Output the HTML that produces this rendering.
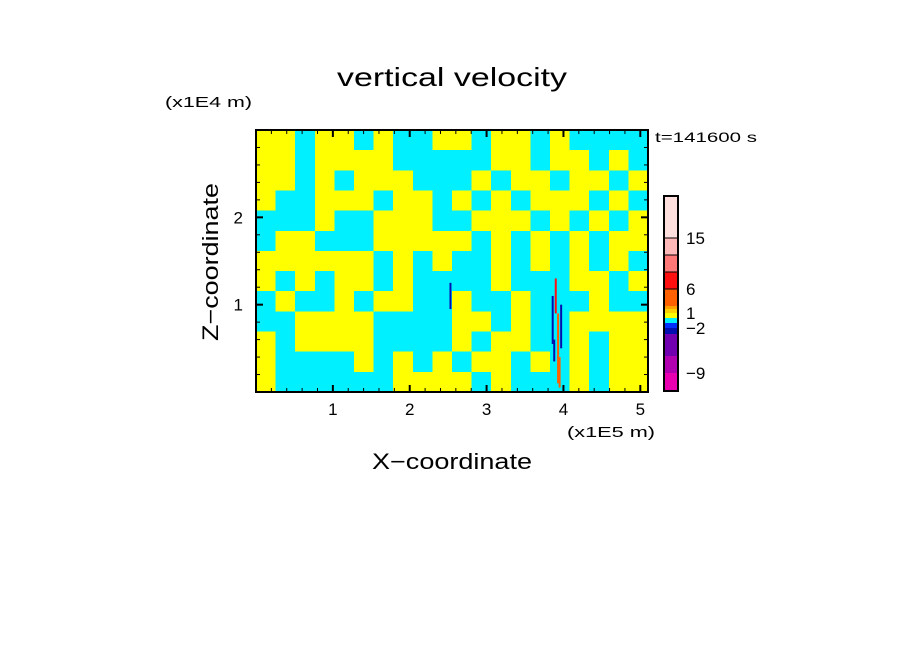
<!DOCTYPE html>
<html><head><meta charset="utf-8"><style>
html,body{margin:0;padding:0;background:#fff}
svg text{font-family:"Liberation Sans",sans-serif;fill:#000}
</style></head><body>
<svg id="chart" width="904" height="654" xmlns="http://www.w3.org/2000/svg">
<rect width="904" height="654" fill="#fff"/>
<text x="337" y="86" font-size="26" textLength="230" lengthAdjust="spacingAndGlyphs">vertical velocity</text>
<text x="165" y="107" font-size="15" textLength="87" lengthAdjust="spacingAndGlyphs">(x1E4 m)</text>
<text x="567" y="437" font-size="15" textLength="88" lengthAdjust="spacingAndGlyphs">(x1E5 m)</text>
<text x="372" y="469" font-size="22" textLength="160" lengthAdjust="spacingAndGlyphs">X−coordinate</text>
<text transform="translate(218,341) rotate(-90)" font-size="22" textLength="158" lengthAdjust="spacingAndGlyphs">Z−coordinate</text>
<text x="655" y="142" font-size="14" textLength="102" lengthAdjust="spacingAndGlyphs">t=141600 s</text>
<g id="field"></g>
<g id="axes"></g>
<g id="cbar"></g>
</svg>
<script>
// grid of sign categories (1 = yellow 0..1, 0 = cyan -1..0), rows top→bottom
const fieldRows = [
"11011010011011010000",
"11011110000011011010",
"11010111000101101101",
"10011101101010111010",
"00010011100111010101",
"01100011111010101011",
"11111101010010101010",
"10101101000010001101",
"01001011001001000100",
"00111100001101001111",
"10111100001011001011",
"10000101010110101011",
"10000001111010001011"
];
// strong streaks
const streakX = [2.53, 3.86, 3.90, 3.93, 3.97, 3.88, 3.95];
const streakZ0 = [0.95, 0.55, 0.9, 0.1, 0.5, 0.35, 0.05];
const streakZ1 = [1.25, 1.1, 1.3, 0.9, 1.0, 0.6, 0.4];
const streakLevel = [-3, -3, 8, 3, -3, -3, 3];
// colorbar levels
const cbarBounds = [-12,-9,-6,-3,-2,-1,0,1,2,3,6,9,12,15,20];
const cbarColors = ["#e800b0","#b000b0","#7000b0","#0010b0","#0030ff","#00f0ff","#ffff00","#ffd000","#ffa000","#ff6000","#ff1010","#ff7878","#ffb8b8","#ffdede"];
const cbarLabels = [-9,-2,1,6,15];
const xTicks = [1,2,3,4,5];
const yTicks = [1,2];

const NS="http://www.w3.org/2000/svg";
const X0=256,X1=648,Y0=392,Y1=130,XMAX=5.1,ZMAX=3.0;
const sx=v=>X0+v*(X1-X0)/XMAX, sy=v=>Y0-v*(Y0-Y1)/ZMAX;
function mk(tag,attrs,parent){const e=document.createElementNS(NS,tag);for(const k in attrs)e.setAttribute(k,attrs[k]);parent.appendChild(e);return e;}
function colorFor(v){for(let i=0;i<cbarColors.length;i++){if(v<cbarBounds[i+1])return cbarColors[i];}return cbarColors[cbarColors.length-1];}
const field=document.getElementById('field');
const nr=fieldRows.length,nc=fieldRows[0].length;
const cw=(X1-X0)/nc,ch=(Y0-Y1)/nr;
for(let r=0;r<nr;r++)for(let c=0;c<nc;c++){
  const e=mk('rect',{x:X0+c*cw,y:Y1+r*ch,width:cw+0.5,height:ch+0.5,fill:fieldRows[r][c]==='1'?'#ffff00':'#00f0ff','shape-rendering':'crispEdges'},field);
  
  
}
for(let i=0;i<streakX.length;i++){
  const e=mk('rect',{x:sx(streakX[i])-1,y:sy(streakZ1[i]),width:2,height:sy(streakZ0[i])-sy(streakZ1[i]),fill:colorFor(streakLevel[i])},field);
  
  
}
const axes=document.getElementById('axes');
const fr=mk('rect',{x:X0,y:Y1,width:X1-X0,height:Y0-Y1,fill:'none',stroke:'#000','stroke-width':2},axes);


for(let v=0.2;v<XMAX;v+=0.2){const x=sx(v);const major=Math.abs(v-Math.round(v))<0.01;const L=major?7:4;
  mk('line',{x1:x,x2:x,y1:Y0,y2:Y0-L,stroke:'#000','stroke-width':major?2:1},axes);
  mk('line',{x1:x,x2:x,y1:Y1,y2:Y1+L,stroke:'#000','stroke-width':major?2:1},axes);}
for(let v=0.2;v<ZMAX;v+=0.2){const y=sy(v);const major=Math.abs(v-Math.round(v))<0.01;const L=major?7:4;
  mk('line',{x1:X0,x2:X0+L,y1:y,y2:y,stroke:'#000','stroke-width':major?2:1},axes);
  mk('line',{x1:X1,x2:X1-L,y1:y,y2:y,stroke:'#000','stroke-width':major?2:1},axes);}
xTicks.forEach(t=>{const e=mk('text',{x:sx(t),y:415,'font-size':17,'text-anchor':'middle'},axes);e.textContent=t;
  
  });
yTicks.forEach(t=>{const e=mk('text',{x:243,y:sy(t)+6,'font-size':17,'text-anchor':'end'},axes);e.textContent=t;
  
  });
// colorbar
const cb=document.getElementById('cbar');
const CX=664,CW=14;
const cpos=[391,373,356,334,328,323,318,313,309,306,289,272,255,238,196];
const cy=v=>{for(let i=0;i<cbarBounds.length-1;i++){if(v<=cbarBounds[i+1]){const f=(v-cbarBounds[i])/(cbarBounds[i+1]-cbarBounds[i]);return cpos[i]+f*(cpos[i+1]-cpos[i]);}}return cpos[cpos.length-1];};
for(let i=0;i<cbarColors.length;i++){const y1=cy(cbarBounds[i+1]),y0=cy(cbarBounds[i]);
  const e=mk('rect',{x:CX,y:y1,width:CW,height:y0-y1,fill:cbarColors[i],stroke:i>=10?'#000':'none','stroke-width':1},cb);
  
  }
mk('rect',{x:CX,y:196,width:CW,height:195,fill:'none',stroke:'#000','stroke-width':2},cb);
cbarLabels.forEach(t=>{const e=mk('text',{x:686,y:cy(t)+6,'font-size':17},cb);e.textContent=t<0?'−'+(-t):t;
  
  });
</script>
</body></html>
